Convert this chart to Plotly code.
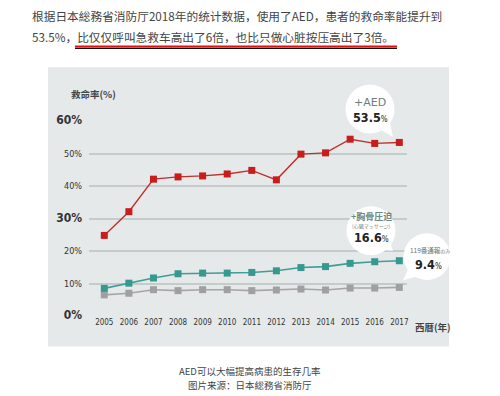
import plotly.graph_objects as go

years = list(range(2005, 2018))
aed = [24.8, 32.1, 42.1, 42.8, 43.1, 43.7, 44.8, 41.9, 49.8, 50.2, 54.4, 53.1, 53.4]
cpr = [8.5, 10.1, 11.7, 13.0, 13.2, 13.2, 13.4, 13.9, 14.9, 15.2, 16.2, 16.7, 17.0]
call_only = [6.5, 7.0, 8.1, 7.8, 8.1, 8.1, 7.8, 8.0, 8.3, 8.0, 8.6, 8.6, 8.8]
ytick_vals = [0, 10, 20, 30, 40, 50, 60]
ytick_major = [0, 30, 60]

W, H = 500, 396
L, R, T, B = 89, 407, 121, 316.5

def px(x):
    return (x - L) / (R - L)

def py(y):
    return (B - y) / (B - T)

FONT = "Liberation Sans Narrow, DejaVu Sans Condensed, Noto Sans CJK SC, sans-serif"
CJK = "Noto Sans CJK SC, sans-serif"

fig = go.Figure()
fig.add_trace(go.Scatter(x=years, y=call_only, mode="lines+markers",
                         line=dict(color="#a6a6a6", width=1.6),
                         marker=dict(symbol="square", size=7, color="#a0a0a0"),
                         showlegend=False, hoverinfo="skip"))
fig.add_trace(go.Scatter(x=years, y=cpr, mode="lines+markers",
                         line=dict(color="#3f9e95", width=1.6),
                         marker=dict(symbol="square", size=7, color="#35998f"),
                         showlegend=False, hoverinfo="skip"))
fig.add_trace(go.Scatter(x=years, y=aed, mode="lines+markers",
                         line=dict(color="#c0302a", width=1.4),
                         marker=dict(symbol="square", size=7, color="#c81d1a"),
                         showlegend=False, hoverinfo="skip"))

def tick_label(v):
    if v in ytick_major:
        return f"<b><span style='font-size:12px'>{v}%</span></b>"
    return f"<span style='font-size:9px'>{v}%</span>"

shapes = []
# gray panel
shapes.append(dict(type="rect", xref="paper", yref="paper", layer="below",
                   x0=px(48), x1=px(449), y0=py(347), y1=py(67),
                   fillcolor="#e5e9e9", line=dict(width=0)))
# underline
shapes.append(dict(type="line", xref="paper", yref="paper",
                   x0=px(75), x1=px(397), y0=py(46.3), y1=py(46.3),
                   line=dict(color="#e01010", width=2)))
shapes.append(dict(type="line", xref="paper", yref="paper",
                   x0=px(75), x1=px(397), y0=py(48.2), y1=py(48.2),
                   line=dict(color="#111111", width=1.4)))

def bubble(cx, cy, r, tail):
    shapes.append(dict(type="circle", xref="paper", yref="paper",
                       x0=px(cx - r), x1=px(cx + r), y0=py(cy + r), y1=py(cy - r),
                       fillcolor="white", line=dict(width=0)))
    path = "M " + " L ".join(f"{px(a)},{py(b)}" for a, b in tail) + " Z"
    shapes.append(dict(type="path", xref="paper", yref="paper", path=path,
                       fillcolor="white", line=dict(width=0)))

bubble(370, 109, 24.5, [(378, 128), (389, 119), (393, 137)])
bubble(371, 231, 24.5, [(380, 250), (389, 241), (393, 251)])
bubble(427, 257, 23.5, [(408, 270), (416, 277), (403, 281)])

ann = []
def text(x, y, s, size, color, font=FONT, xanchor="center"):
    ann.append(dict(xref="paper", yref="paper", x=px(x), y=py(y), text=s,
                    showarrow=False, xanchor=xanchor, yanchor="middle",
                    font=dict(size=size, color=color, family=font)))

# header
text(30, 15, "根据日本総務省消防厅2018年的统计数据，使用了AED，患者的救命率能提升到", 11.7, "#444444", CJK, "left")
text(30, 36, "53.5%，比仅仅呼叫急救车高出了6倍，也比只做心脏按压高出了3倍。", 11.7, "#444444", CJK, "left")
# axis titles
text(69, 94, "<b>救命率(%)</b>", 9.5, "#444444", CJK, "left")
text(413, 328, "<b>西暦(年)</b>", 9.5, "#444444", CJK, "left")
# bubbles
text(370, 102, "+AED", 11, "#6f7f7d", "DejaVu Sans, sans-serif")
text(370, 117, "<b>53.5</b><span style='font-size:8px'>%</span>", 12.5, "#222222")
text(371, 217, "<b>+胸骨圧迫</b>", 9, "#6a8a86", CJK)
text(371, 226.5, "(心臓マッサージ)", 5, "#6a8a86", CJK)
text(371, 238, "<b>16.6</b><span style='font-size:8px'>%</span>", 12.5, "#222222")
text(430, 250, "119番通報<span style='font-size:5px'>のみ</span>", 6.5, "#6a7474", CJK)
text(428, 265, "<b>9.4</b><span style='font-size:8px'>%</span>", 12.5, "#222222")
# caption
text(250, 372, "AED可以大幅提高病患的生存几率", 9.5, "#444444", CJK)
text(250, 386, "图片来源：日本総務省消防厅", 9.5, "#444444", CJK)

fig.update_layout(
    width=W, height=H,
    margin=dict(l=L, r=W - R, t=T, b=H - B, pad=0),
    paper_bgcolor="white", plot_bgcolor="rgba(0,0,0,0)",
    shapes=shapes, annotations=ann,
    xaxis=dict(range=[2004.378, 2017.313], tickvals=years, ticktext=[str(y) for y in years],
               showgrid=False, zeroline=False, showline=False, ticks="",
               tickfont=dict(size=8, color="#333333", family=FONT), fixedrange=True),
    yaxis=dict(range=[0, 60], tickvals=ytick_vals, ticktext=[tick_label(v) for v in ytick_vals],
               showgrid=True, gridcolor="#c4cbcb", gridwidth=1.6, zeroline=False,
               showline=False, ticks="", ticklabelstandoff=6,
               tickfont=dict(size=9, color="#333333", family=FONT), fixedrange=True),
)
fig.write_html("out.html", config={"displayModeBar": False},
               post_script="document.body.style.margin='0';document.body.style.overflow='hidden';")
